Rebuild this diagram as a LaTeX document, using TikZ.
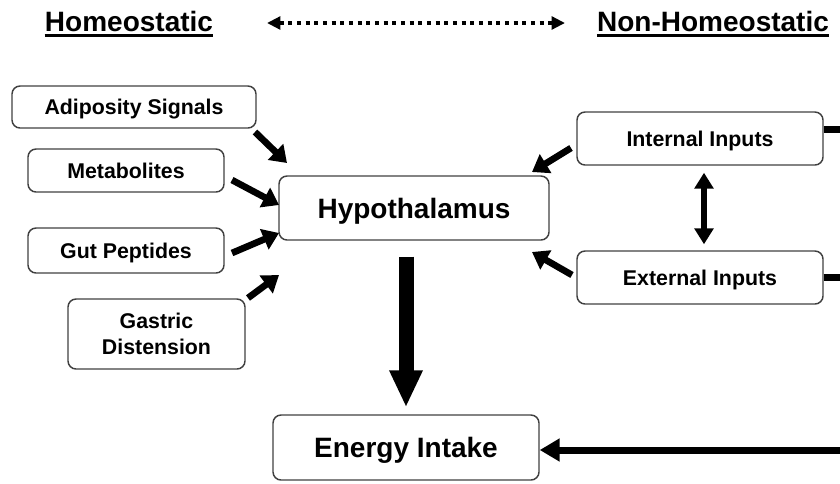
\documentclass[tikz,border=0pt]{standalone}
\usepackage{fontspec}
\setmainfont{Liberation Sans}
\usetikzlibrary{arrows.meta}
\begin{document}
\begin{tikzpicture}[x=0.75pt,y=-0.75pt,
  boxbase/.style={draw=black!75,line width=1.1pt,rounded corners=6pt,inner sep=0pt,
    align=center,font=\fontsize{16}{19.5}\selectfont\bfseries},
  box/.style={boxbase,text height=11.5pt,text depth=0pt},
  bigbox/.style={boxbase,font=\fontsize{21}{25}\selectfont\bfseries,text height=15pt,text depth=0pt},
  head/.style={inner sep=0pt,font=\fontsize{21}{25}\selectfont\bfseries,anchor=base},
  sarrow/.style={line width=5pt,-{Triangle[length=12pt,width=16pt]}},
  dblarrow/.style={line width=5pt,{Triangle[length=12pt,width=14pt]}-{Triangle[length=12pt,width=14pt]}},
  thick line/.style={line width=5.25pt},
]
\useasboundingbox (0,0) rectangle (840,483);

% headers
\node[head] (home) at (129,31) {Homeostatic};
\node[head] (nonh) at (713,31) {Non-Homeostatic};
\draw[line width=1.9pt] ([yshift=-3.2pt]home.base west) -- ([yshift=-3.2pt]home.base east);
\draw[line width=1.9pt] ([yshift=-3.2pt]nonh.base west) -- ([yshift=-3.2pt]nonh.base east);
\coordinate (dL) at (267,23);
\coordinate (dR) at (565,23);
\draw[line width=3.3pt,dash pattern=on 3.2pt off 3.3pt,
  {Triangle[length=10pt,width=9.5pt]}-{Triangle[length=10pt,width=9.5pt]}] (dL) -- (dR);

% boxes
\node[box,minimum width=183pt,minimum height=31.5pt] (adip) at (134,107) {Adiposity Signals};
\node[box,minimum width=147pt,minimum height=32.25pt] (metab) at (126,170.5) {Metabolites};
\node[box,minimum width=147pt,minimum height=33.75pt] (gut) at (126,250.5) {Gut Peptides};
\node[boxbase,minimum width=132.75pt,minimum height=52.5pt] (gast) at (156.5,334) {Gastric\\Distension};
\node[bigbox,minimum width=202.5pt,minimum height=48pt] (hyp) at (414,208) {Hypothalamus};
\node[box,minimum width=184.5pt,minimum height=39.75pt] (intern) at (700,138.5) {Internal Inputs};
\node[box,minimum width=184.5pt,minimum height=39.75pt] (extern) at (700,277.5) {External Inputs};
\node[bigbox,minimum width=199.5pt,minimum height=48.75pt] (energy) at (406,447.5) {Energy Intake};

% small arrows left
\coordinate (a1) at (255,132); \coordinate (a1t) at (287,163);
\coordinate (a2) at (232,180); \coordinate (a2t) at (279,205);
\coordinate (a3) at (232,253); \coordinate (a3t) at (279,233);
\coordinate (a4) at (248,298); \coordinate (a4t) at (279,275);
\draw[sarrow] (a1) -- (a1t);
\draw[sarrow] (a2) -- (a2t);
\draw[sarrow] (a3) -- (a3t);
\draw[sarrow] (a4) -- (a4t);

% small arrows right
\coordinate (b1) at (571,148); \coordinate (b1t) at (532,172);
\coordinate (b2) at (572,275); \coordinate (b2t) at (532,252);
\draw[sarrow] (b1) -- (b1t);
\draw[sarrow] (b2) -- (b2t);

% internal <-> external
\draw[dblarrow,shorten <=5.25pt,shorten >=4.5pt] ([xshift=3pt]intern.south) -- ([xshift=3pt]extern.north);

% big arrow
\draw[line width=11.25pt,-{Triangle[length=27.75pt,width=23.25pt]},shorten <=12pt,shorten >=5.25pt]
  (energy.north |- hyp.south) -- (energy.north);

% right-hand lines
\coordinate (iR) at (840,129);
\coordinate (xR) at (840,277.5);
\coordinate (eR) at (840,450);
\draw[thick line] (intern.east |- iR) -- (iR);
\draw[thick line] (extern.east |- xR) -- (xR);
\draw[thick line,-{Triangle[length=15pt,width=16.5pt]}] (eR) -- (energy.east |- eR);
\end{tikzpicture}
\end{document}
